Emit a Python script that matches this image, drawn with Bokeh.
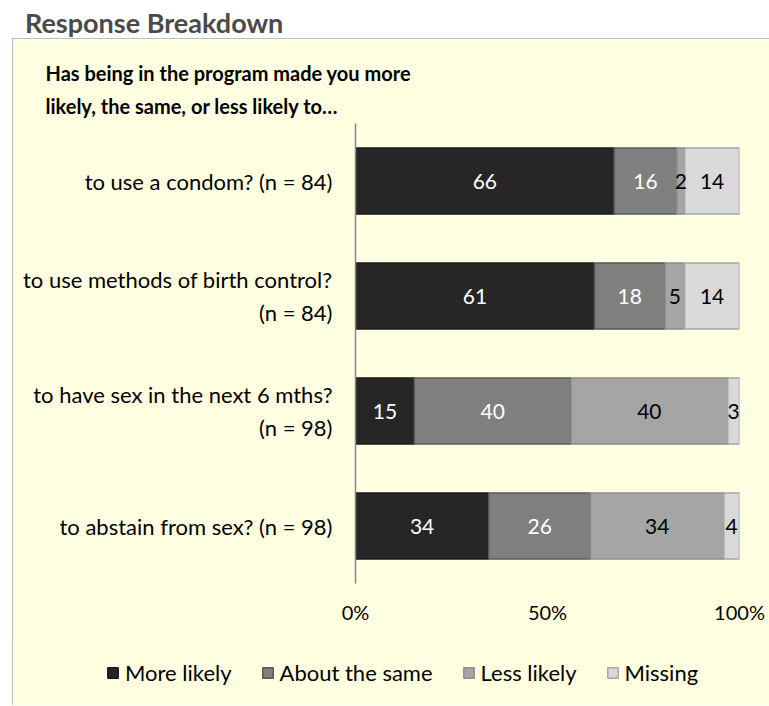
from bokeh.plotting import figure
from bokeh.models import (ColumnDataSource, Legend, LegendItem, Div, FactorRange, Range1d,
                          NumeralTickFormatter, FixedTicker, LabelSet)
from bokeh.layouts import column, row
from bokeh.core.properties import value
from bokeh.embed import file_html
from bokeh.resources import INLINE

# ---------------- data ----------------
questions = [
    "to use a condom? (n = 84)",
    "to use methods of birth control?\n(n = 84)",
    "to have sex in the next 6 mths?\n(n = 98)",
    "to abstain from sex? (n = 98)",
]
series = ["More likely", "About the same", "Less likely", "Missing"]
more_likely = [66, 61, 15, 34]
about_same = [16, 18, 40, 26]
less_likely = [2, 5, 40, 34]
missing = [14, 14, 3, 4]
x_ticks = [0, 0.5, 1.0]

header_text = "Response Breakdown"
title_text = "Has being in the program made you more\nlikely, the same, or less likely to\u2026"

# ---------------- styles ----------------
FONT = "Lato"
BG = "#FFFFE1"
BORDER = "1px solid #bdbdbd"
fills = ["#262626", "#7f7f7f", "#a5a5a5", "#d9d9d9"]
lines = ["#1a1a1a", "#595959", "#8c8c8c", "#a6a6a6"]
text_colors = ["white", "white", "black", "black"]
keys = ["s0", "s1", "s2", "s3"]

values = [more_likely, about_same, less_likely, missing]
totals = [sum(v[i] for v in values) for i in range(len(questions))]

data = {"q": questions}
for k, vals in zip(keys, values):
    data[k] = [v / t for v, t in zip(vals, totals)]
source = ColumnDataSource(data)

# ---------------- main chart ----------------
p = figure(width=757, height=601, y_range=FactorRange(factors=list(reversed(questions))),
           x_range=Range1d(0, 1), output_backend="svg", toolbar_location=None,
           min_border_left=342, min_border_right=31, min_border_top=84, min_border_bottom=57,
           background_fill_color=BG, border_fill_color=BG, outline_line_color=None)
p.margin = (0, 0, 0, 12)
p.styles = {"border-top": BORDER, "border-left": BORDER}

p.title.text = title_text
p.title.text_font = FONT
p.title.text_font_size = "20px"
p.title.text_font_style = "bold"
p.title.text_color = "black"
p.title.text_line_height = 1.4
p.title.align = "left"
p.title.offset = -310

renderers = p.hbar_stack(keys, y="q", height=0.575, source=source,
                         fill_color=fills, line_color=lines, line_width=1.5)

# segment labels
for i, (k, vals) in enumerate(zip(keys, values)):
    left = [sum(source.data[kk][j] for kk in keys[:i]) for j in range(len(questions))]
    centers = [l + s / 2 for l, s in zip(left, source.data[k])]
    src = ColumnDataSource({"q": questions, "x": centers, "t": [str(v) for v in vals]})
    p.add_layout(LabelSet(x="x", y="q", text="t", source=src, text_align="center",
                          text_baseline="middle", text_color=text_colors[i],
                          text_font=value(FONT), text_font_size=value("21px")))

p.xgrid.grid_line_color = None
p.ygrid.grid_line_color = None

p.xaxis.ticker = FixedTicker(ticks=x_ticks)
p.xaxis.formatter = NumeralTickFormatter(format="0%")
p.xaxis.axis_line_color = None
p.xaxis.major_tick_line_color = None
p.xaxis.minor_tick_line_color = None
p.xaxis.major_label_text_font = FONT
p.xaxis.major_label_text_font_size = "20px"
p.xaxis.major_label_text_color = "black"
p.xaxis.major_label_standoff = 10

p.yaxis.axis_line_color = "#868686"
p.yaxis.axis_line_width = 1.5
p.yaxis.major_tick_line_color = None
p.yaxis.minor_tick_line_color = None
p.yaxis.major_label_text_font = FONT
p.yaxis.major_label_text_font_size = "22px"
p.yaxis.major_label_text_color = "black"
p.yaxis.major_label_standoff = 17

# ---------------- legend strip ----------------
lg = figure(width=757, height=66, x_range=Range1d(0, 1),
            y_range=FactorRange(factors=list(reversed(questions))),
            output_backend="svg", toolbar_location=None,
            x_axis_location=None, y_axis_location=None,
            min_border_left=0, min_border_right=0, min_border_top=0, min_border_bottom=0,
            background_fill_color=BG, border_fill_color=BG, outline_line_color=None)
lg.styles = {"border-left": BORDER}
lg.xgrid.grid_line_color = None
lg.ygrid.grid_line_color = None
lg_renderers = lg.hbar_stack(keys, y="q", height=0.575, source=source,
                             fill_color=fills, line_color=lines, line_width=1.5)
for r in lg_renderers:
    r.visible = False

legend = Legend(items=[LegendItem(label=s, renderers=[r]) for s, r in zip(series, lg_renderers)],
                orientation="horizontal", location=(93, 19),
                background_fill_alpha=0, border_line_color=None,
                inactive_fill_alpha=0,
                glyph_width=13, glyph_height=13, label_standoff=6, spacing=29,
                label_text_font=FONT, label_text_font_size="22px", label_text_color="black",
                margin=0, padding=4)
lg.add_layout(legend, "center")

header = Div(text='<span style="font-family: Lato; font-weight: bold; font-size: 27px; '
                  'color: #4a4a4a; line-height: 30px;">' + header_text + '</span>',
             width=757, height=38, margin=(0, 0, 0, 12),
             styles={"padding-left": "13px", "padding-top": "8px", "box-sizing": "border-box"})

legend_box = row(lg, margin=(0, 0, 0, 12))
layout = column(header, p, legend_box, spacing=0, margin=0)
open("out.html", "w").write(file_html(layout, INLINE))
